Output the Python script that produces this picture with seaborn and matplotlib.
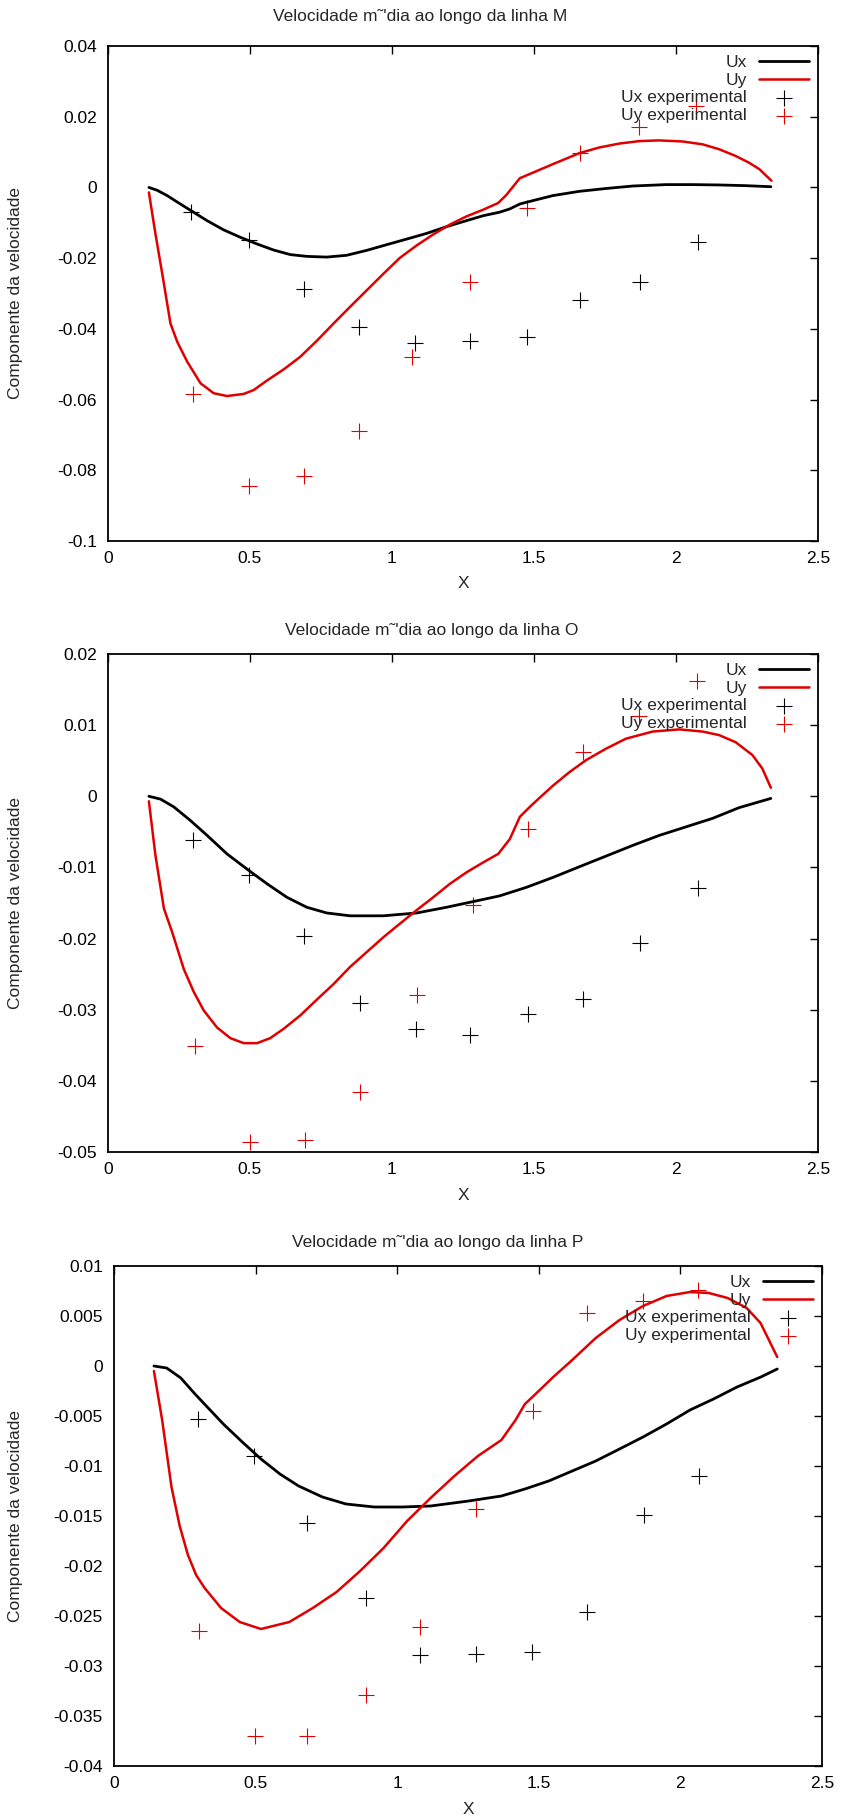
import numpy as np
import pandas as pd
import seaborn as sns
import matplotlib
matplotlib.use("Agg")
import matplotlib.pyplot as plt
from matplotlib.ticker import FuncFormatter, MultipleLocator

sns.set_theme(style="white")
plt.rcParams["font.family"] = ["Liberation Sans", "DejaVu Sans"]
plt.rcParams["axes.unicode_minus"] = False

# ---------------- Linha M ----------------
m_ux_x = [0.144, 0.173, 0.208, 0.255, 0.293, 0.349, 0.407, 0.466, 0.525, 0.583, 0.642,
          0.70, 0.77, 0.84, 0.911, 0.981, 1.052, 1.122, 1.192, 1.262, 1.321, 1.379,
          1.414, 1.45, 1.473, 1.567, 1.66, 1.754, 1.848, 1.965, 2.058, 2.152, 2.246, 2.334]
m_ux_y = [0.0, -0.0008, -0.0023, -0.0047, -0.0066, -0.0094, -0.012, -0.0141, -0.016,
          -0.0177, -0.019, -0.0195, -0.0197, -0.0192, -0.0178, -0.0162, -0.0146, -0.013,
          -0.0111, -0.0094, -0.008, -0.007, -0.0061, -0.0047, -0.0042, -0.0023, -0.0011,
          -0.0003, 0.0004, 0.0008, 0.0008, 0.0007, 0.0005, 0.0002]
m_uy_x = [0.144, 0.167, 0.191, 0.220, 0.244, 0.279, 0.326, 0.372, 0.419, 0.478, 0.513,
          0.560, 0.618, 0.677, 0.735, 0.794, 0.852, 0.911, 0.970, 1.028, 1.087, 1.145,
          1.204, 1.262, 1.321, 1.374, 1.403, 1.45, 1.485, 1.567, 1.66, 1.73, 1.80, 1.871,
          1.94, 2.023, 2.093, 2.152, 2.21, 2.257, 2.293, 2.336]
m_uy_y = [-0.0014, -0.0131, -0.0244, -0.0385, -0.0437, -0.0493, -0.0554, -0.0582,
          -0.0590, -0.0584, -0.0573, -0.0546, -0.0515, -0.0479, -0.0434, -0.0385,
          -0.0338, -0.0291, -0.0244, -0.0199, -0.0164, -0.0133, -0.0105, -0.0082,
          -0.0063, -0.0044, -0.0021, 0.0026, 0.0038, 0.0066, 0.0097, 0.0113, 0.0124,
          0.0131, 0.0133, 0.0130, 0.0122, 0.0108, 0.0089, 0.0070, 0.0052, 0.0019]
m_exp_ux_x = [0.293, 0.495, 0.689, 0.885, 1.081, 1.274, 1.475, 1.663, 1.873, 2.076]
m_exp_ux = [-0.0070, -0.0150, -0.0286, -0.0394, -0.0439, -0.0434, -0.0423, -0.0318,
            -0.0268, -0.0153]
m_exp_uy_x = [0.30, 0.495, 0.69, 0.885, 1.069, 1.274, 1.475, 1.663, 1.868, 2.07]
m_exp_uy = [-0.0584, -0.0845, -0.0815, -0.0690, -0.0481, -0.0268, -0.0058, 0.0096,
            0.0171, 0.0230]

# ---------------- Linha O ----------------
o_ux_x = [0.144, 0.185, 0.232, 0.29, 0.349, 0.419, 0.495, 0.56, 0.63, 0.70, 0.77, 0.852,
          0.97, 1.087, 1.192, 1.274, 1.379, 1.473, 1.567, 1.66, 1.754, 1.848, 1.941,
          2.035, 2.129, 2.222, 2.334]
o_ux_y = [0.0, -0.0004, -0.0015, -0.0034, -0.0055, -0.0081, -0.0104, -0.0123, -0.0142,
          -0.0156, -0.0164, -0.0168, -0.0168, -0.0164, -0.0156, -0.0149, -0.0140,
          -0.0128, -0.0114, -0.0099, -0.0084, -0.0069, -0.0055, -0.0043, -0.0031,
          -0.0016, -0.0003]
o_uy_x = [0.144, 0.167, 0.197, 0.226, 0.267, 0.302, 0.337, 0.384, 0.431, 0.478, 0.525,
          0.571, 0.618, 0.677, 0.735, 0.794, 0.852, 0.911, 0.97, 1.028, 1.087, 1.145,
          1.204, 1.262, 1.321, 1.374, 1.415, 1.45, 1.485, 1.52, 1.567, 1.625, 1.684,
          1.754, 1.824, 1.918, 2.012, 2.093, 2.152, 2.21, 2.269, 2.304, 2.334]
o_uy_y = [-0.0007, -0.0083, -0.0158, -0.0191, -0.0243, -0.0275, -0.0301, -0.0325,
          -0.0340, -0.0347, -0.0347, -0.0340, -0.0327, -0.0308, -0.0286, -0.0264,
          -0.0240, -0.0219, -0.0198, -0.0179, -0.0160, -0.0142, -0.0123, -0.0107,
          -0.0093, -0.0081, -0.0060, -0.0029, -0.0015, -0.0002, 0.0015, 0.0034, 0.0051,
          0.0067, 0.0081, 0.0091, 0.0094, 0.0091, 0.0086, 0.0076, 0.0058, 0.0039, 0.0012]
o_exp_ux_x = [0.30, 0.495, 0.689, 0.888, 1.084, 1.276, 1.479, 1.672, 1.873, 2.076]
o_exp_ux = [-0.0062, -0.0111, -0.0196, -0.0290, -0.0327, -0.0336, -0.0306, -0.0285,
            -0.0206, -0.0129]
o_exp_uy_x = [0.308, 0.501, 0.694, 0.888, 1.087, 1.286, 1.479, 1.672, 1.871, 2.074]
o_exp_uy = [-0.0351, -0.0486, -0.0483, -0.0415, -0.0279, -0.0153, -0.0046, 0.0062,
            0.0113, 0.0162]

# ---------------- Linha P ----------------
p_ux_x = [0.141, 0.186, 0.236, 0.286, 0.336, 0.386, 0.453, 0.519, 0.586, 0.652, 0.736,
          0.819, 0.919, 1.018, 1.118, 1.252, 1.368, 1.451, 1.535, 1.618, 1.701, 1.785,
          1.868, 1.951, 2.034, 2.117, 2.2, 2.284, 2.342]
p_ux_y = [0.0, -0.0002, -0.0012, -0.0028, -0.0043, -0.0058, -0.0076, -0.0093, -0.0108,
          -0.0120, -0.0131, -0.0138, -0.0141, -0.0141, -0.0140, -0.0135, -0.0130,
          -0.0123, -0.0115, -0.0105, -0.0095, -0.0083, -0.0071, -0.0058, -0.0044,
          -0.0033, -0.0021, -0.0011, -0.0003]
p_uy_x = [0.141, 0.17, 0.203, 0.232, 0.261, 0.29, 0.32, 0.378, 0.444, 0.519, 0.619,
          0.702, 0.786, 0.869, 0.952, 1.035, 1.118, 1.202, 1.285, 1.368, 1.418, 1.451,
          1.485, 1.551, 1.618, 1.701, 1.785, 1.868, 1.951, 2.034, 2.1, 2.167, 2.234,
          2.283, 2.342]
p_uy_y = [-0.0005, -0.0054, -0.0121, -0.0160, -0.0189, -0.0209, -0.0222, -0.0242,
          -0.0256, -0.0263, -0.0256, -0.0242, -0.0226, -0.0205, -0.0182, -0.0155,
          -0.0132, -0.0110, -0.0090, -0.0074, -0.0054, -0.0038, -0.0029, -0.0011,
          0.0006, 0.0028, 0.0046, 0.0060, 0.0070, 0.0074, 0.0073, 0.0068, 0.0058,
          0.0043, 0.0009]
p_exp_ux_x = [0.295, 0.496, 0.68, 0.889, 1.08, 1.28, 1.477, 1.671, 1.871, 2.067]
p_exp_ux = [-0.0053, -0.0090, -0.0157, -0.0232, -0.0289, -0.0288, -0.0286, -0.0246,
            -0.0149, -0.0110]
p_exp_uy_x = [0.30, 0.497, 0.681, 0.889, 1.08, 1.28, 1.481, 1.671, 1.867, 2.063]
p_exp_uy = [-0.0265, -0.0370, -0.0370, -0.0329, -0.0261, -0.0143, -0.0045, 0.0053,
            0.0065, 0.0076]

TITLE = "Velocidade m\u02dc'dia ao longo da linha {}"
YLABEL = "Componente da velocidade"
XTICKS = [0, 0.5, 1, 1.5, 2, 2.5]

panels = [
    dict(name="M", ux=(m_ux_x, m_ux_y), uy=(m_uy_x, m_uy_y),
         eux=(m_exp_ux_x, m_exp_ux), euy=(m_exp_uy_x, m_exp_uy),
         ylim=(-0.1, 0.04), ystep=0.02,
         box=(108, 46, 818, 541), title_xy=(420, 16)),
    dict(name="O", ux=(o_ux_x, o_ux_y), uy=(o_uy_x, o_uy_y),
         eux=(o_exp_ux_x, o_exp_ux), euy=(o_exp_uy_x, o_exp_uy),
         ylim=(-0.05, 0.02), ystep=0.01,
         box=(108, 654, 818, 1152), title_xy=(432, 630)),
    dict(name="P", ux=(p_ux_x, p_ux_y), uy=(p_uy_x, p_uy_y),
         eux=(p_exp_ux_x, p_exp_ux), euy=(p_exp_uy_x, p_exp_uy),
         ylim=(-0.04, 0.01), ystep=0.005,
         box=(114, 1266, 822, 1766), title_xy=(438, 1242)),
]

W, H = 841, 1818
fig = plt.figure(figsize=(W / 100, H / 100), dpi=100)
FS = 12.5


def fmt(v, pos):
    v = round(v, 6)
    if abs(v) < 1e-12:
        return "0"
    return f"{v:g}"


for p in panels:
    l, t, r, b = p["box"]
    ax = fig.add_axes([l / W, 1 - b / H, (r - l) / W, (b - t) / H])
    df_ux = pd.DataFrame({"x": p["ux"][0], "y": p["ux"][1]})
    df_uy = pd.DataFrame({"x": p["uy"][0], "y": p["uy"][1]})
    df_eux = pd.DataFrame({"x": p["eux"][0], "y": p["eux"][1]})
    df_euy = pd.DataFrame({"x": p["euy"][0], "y": p["euy"][1]})

    sns.lineplot(data=df_ux, x="x", y="y", ax=ax, color="black", linewidth=2.0,
                 sort=False, label="Ux")
    sns.lineplot(data=df_uy, x="x", y="y", ax=ax, color="#e00000", linewidth=1.8,
                 sort=False, label="Uy")
    sns.scatterplot(data=df_eux, x="x", y="y", ax=ax, color="black", marker="+",
                    s=120, linewidth=0.8, label="Ux experimental")
    sns.scatterplot(data=df_euy, x="x", y="y", ax=ax, color="#e00000", marker="+",
                    s=120, linewidth=0.8, label="Uy experimental")

    ax.set_xlim(0, 2.5)
    ax.set_ylim(*p["ylim"])
    ax.set_xticks(XTICKS)
    ax.yaxis.set_major_locator(MultipleLocator(p["ystep"]))
    ax.xaxis.set_major_formatter(FuncFormatter(fmt))
    ax.yaxis.set_major_formatter(FuncFormatter(fmt))
    ax.tick_params(direction="in", length=6, width=1.0, top=True, right=True,
                   labelsize=FS, colors="black", pad=8)
    ax.tick_params(axis="x", pad=7)
    for s in ax.spines.values():
        s.set_visible(True)
        s.set_color("black")
        s.set_linewidth(1.3)

    ax.set_xlabel("X", fontsize=FS, va="center")
    ax.set_ylabel(YLABEL, fontsize=FS)
    ax.xaxis.set_label_coords(0.5, -43 / (b - t))
    ax.yaxis.set_label_coords((23 - l) / (r - l), 0.5)
    ax.grid(False)

    handles, labels = ax.get_legend_handles_labels()
    ax.legend(handles, labels, loc="upper right", frameon=False, markerfirst=False,
              fontsize=FS, handlelength=2.9, handletextpad=0.7, labelspacing=0.15,
              borderaxespad=0.3, borderpad=0.2, alignment="right")

    tx, ty = p["title_xy"]
    fig.text(tx / W, 1 - ty / H, TITLE.format(p["name"]), ha="center", va="center",
             fontsize=FS)

fig.savefig("out.png", dpi=100, facecolor="white")
